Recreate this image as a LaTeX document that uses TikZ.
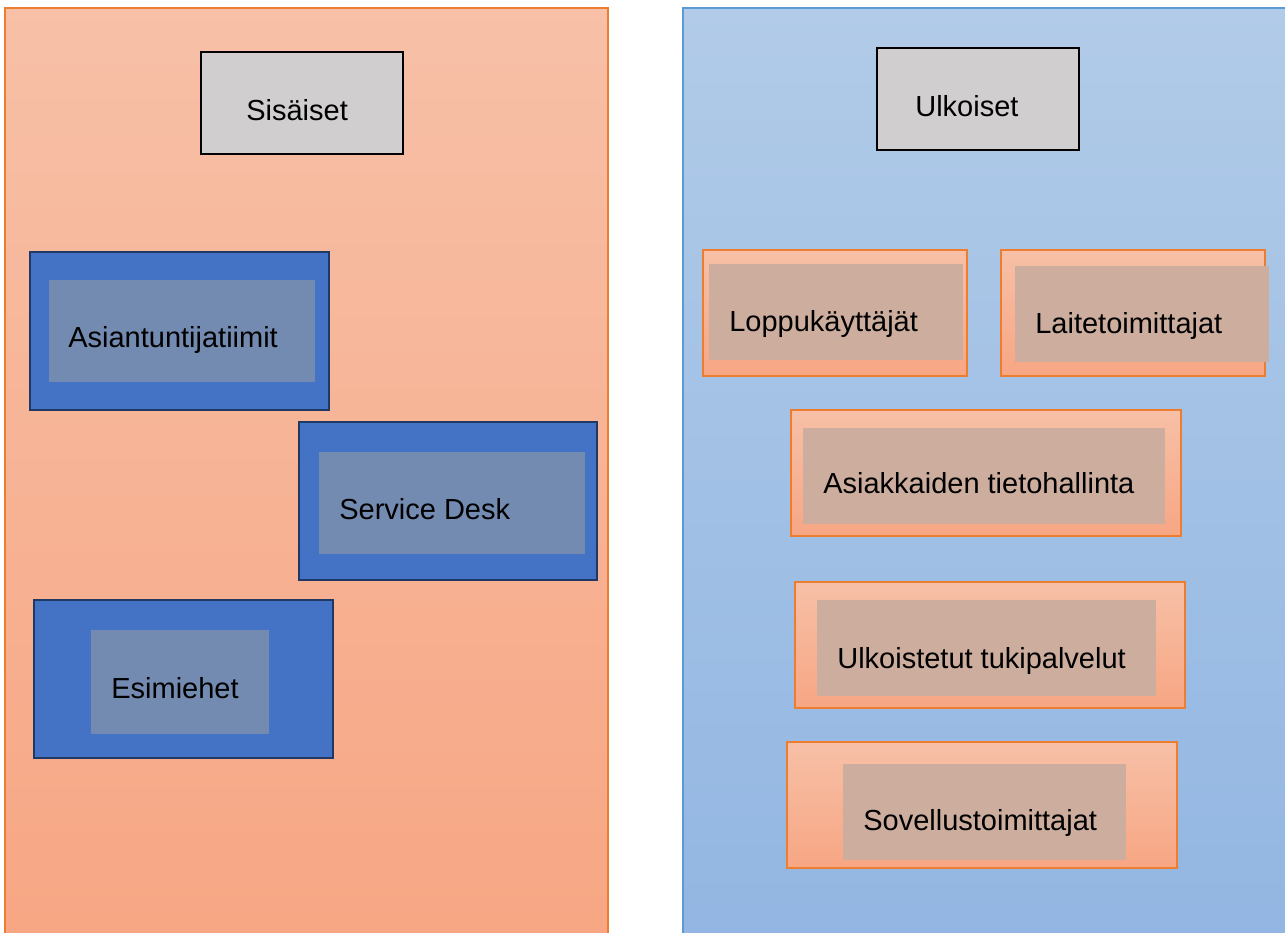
\documentclass[tikz,border=0pt]{standalone}
\usepackage{fontspec}
\setmainfont{Liberation Sans}
\usetikzlibrary{fit}

\definecolor{orTop}{RGB}{247,192,167}
\definecolor{orBot}{RGB}{247,166,131}
\definecolor{orLine}{RGB}{237,125,49}
\definecolor{blTop}{RGB}{177,203,232}
\definecolor{blBot}{RGB}{146,182,226}
\definecolor{blLine}{RGB}{91,155,213}
\definecolor{boxGray}{RGB}{208,206,206}
\definecolor{deepBlue}{RGB}{68,114,196}
\definecolor{deepLine}{RGB}{32,56,100}
\definecolor{dullBlue}{RGB}{115,138,177}
\definecolor{dullBrown}{RGB}{205,174,158}

\tikzset{
  panelL/.style={draw=orLine,line width=0.6pt,top color=orTop,bottom color=orBot,inner sep=0pt},
  panelR/.style={draw=blLine,line width=0.6pt,top color=blTop,bottom color=blBot,inner sep=0pt},
  grbox/.style={draw=black,line width=0.7pt,fill=boxGray,inner sep=0pt},
  bluebox/.style={draw=deepLine,line width=1.1pt,fill=deepBlue,inner sep=0pt},
  blueinner/.style={fill=dullBlue,inner sep=0pt},
  orbox/.style={draw=orLine,line width=0.8pt,top color=orTop,bottom color=orBot,inner sep=0pt},
  orinner/.style={fill=dullBrown,inner sep=0pt},
  lbl/.style={font=\fontsize{16.5}{20}\selectfont,anchor=base west,inner sep=0pt}
}

\begin{document}
\begin{tikzpicture}[x=0.02cm,y=-0.02cm]
\useasboundingbox (0,0) rectangle (1285,933);

% two columns
\node[panelL, fit={(5,8) (608,950)}] (sisa) {};
\node[panelR, fit={(683,8) (1300,950)}] (ulko) {};

% headings
\node[grbox, fit={(201,52) (403,154)}] (sisbox) {};
\node[lbl] (sistxt) at (246,120) {Sisäiset};
\node[grbox, fit={(877,48) (1079,150)}] (ulkbox) {};
\node[lbl] (ulktxt) at (915,116) {Ulkoiset};

% internal groups
\begin{scope}
  \node[bluebox, fit={(30,252) (329,410)}] (asi) {};
  \node[blueinner, fit={(49,280) (315,382)}] (asiin) {};
  \node[lbl] (asitxt) at (68,347) {Asiantuntijatiimit};

  \node[bluebox, fit={(299,422) (597,580)}] (sd) {};
  \node[blueinner, fit={(319,452) (585,554)}] (sdin) {};
  \node[lbl] (sdtxt) at (339,519) {Service Desk};

  \node[bluebox, fit={(34,600) (333,758)}] (esi) {};
  \node[blueinner, fit={(91,630) (269,734)}] (esiin) {};
  \node[lbl] (esitxt) at (111,698) {Esimiehet};
\end{scope}

% external groups
\begin{scope}
  \node[orbox, fit={(703,250) (967,376)}] (lop) {};
  \node[orinner, fit={(709,264) (963,360)}] (lopin) {};
  \node[lbl] (loptxt) at (729,331) {Loppukäyttäjät};

  \node[orbox, fit={(1001,250) (1265,376)}] (lai) {};
  \node[orinner, fit={(1015,266) (1269,362)}] (laiin) {};
  \node[lbl] (laitxt) at (1035,333) {Laitetoimittajat};

  \node[orbox, fit={(791,410) (1181,536)}] (ast) {};
  \node[orinner, fit={(803,428) (1165,524)}] (astin) {};
  \node[lbl] (asttxt) at (823,493) {Asiakkaiden tietohallinta};

  \node[orbox, fit={(795,582) (1185,708)}] (utp) {};
  \node[orinner, fit={(817,600) (1156,696)}] (utpin) {};
  \node[lbl] (utptxt) at (837,668) {Ulkoistetut tukipalvelut};

  \node[orbox, fit={(787,742) (1177,868)}] (sov) {};
  \node[orinner, fit={(843,764) (1126,860)}] (sovin) {};
  \node[lbl] (sovtxt) at (863,830) {Sovellustoimittajat};
\end{scope}
\end{tikzpicture}
\end{document}
